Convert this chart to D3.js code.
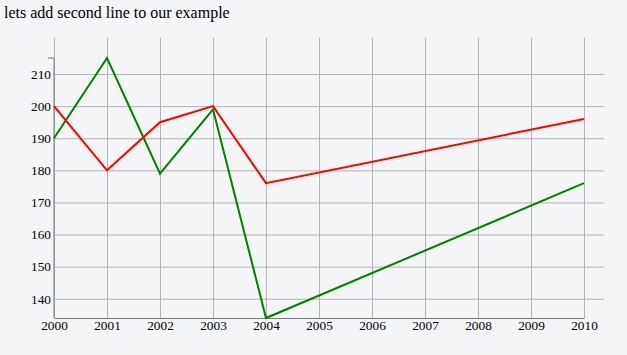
<!DOCTYPE html>
<html><head><meta charset="utf-8">
<script src="https://cdn.jsdelivr.net/npm/d3@7"></script>
<style>
html,body{margin:0;padding:0;background:#f4f5f7;}
svg{display:block;}
</style></head>
<body>
<script>
const title = "lets add second line to our example";
const years = [2000, 2001, 2002, 2003, 2004, 2010];
const greenValues = [190, 215, 179, 199, 134, 176];
const redValues = [200, 180, 195, 200, 176, 196];
const xTicks = [2000,2001,2002,2003,2004,2005,2006,2007,2008,2009,2010];
const yTicks = [140,150,160,170,180,190,200,210];

const W = 627, H = 355;
const pLeft = 54, pTop = 58, pRight = 584, pBottom = 318;
const FONT = "font-family:'Liberation Serif',serif;";

const svg = d3.select("body").append("svg").attr("width", W).attr("height", H);
svg.append("rect").attr("width", W).attr("height", H).attr("fill", "#f4f5f7");

svg.append("text").attr("x", 4).attr("y", 18).attr("style", FONT + "font-size:16px").attr("fill", "#000").text(title);

const x = d3.scaleLinear().domain([2000, 2010]).range([pLeft, pRight]);
const y = d3.scaleLinear().domain([134, 215]).range([pBottom, pTop]);

// grids
const gx = svg.append("g").attr("transform", `translate(0,${pBottom})`)
  .call(d3.axisBottom(x).tickValues(xTicks).tickSize(-(pBottom - 38)).tickFormat(""));
gx.select(".domain").remove();
gx.selectAll("line").attr("stroke", "#b4b4b4");
const gy = svg.append("g").attr("transform", `translate(${pLeft},0)`)
  .call(d3.axisLeft(y).tickValues(yTicks).tickSize(-(604 - pLeft)).tickFormat(""));
gy.select(".domain").remove();
gy.selectAll("line").attr("stroke", "#b4b4b4");

// axes
const ax = svg.append("g").attr("transform", `translate(0,${pBottom})`)
  .call(d3.axisBottom(x).tickValues(xTicks).tickFormat(d3.format("d")).tickSizeInner(0).tickSizeOuter(0).tickPadding(3));
ax.select(".domain").attr("stroke", "#777");
ax.selectAll("text").attr("style", FONT + "font-size:13.3px").attr("fill", "#000");

const ay = svg.append("g").attr("transform", `translate(${pLeft},0)`)
  .call(d3.axisLeft(y).tickValues(yTicks).tickSizeInner(0).tickSizeOuter(6).tickPadding(3));
ay.select(".domain").attr("stroke", "#777").attr("d", `M-6,${pTop}H0V${pBottom}`);
ay.selectAll("text").attr("style", FONT + "font-size:13.3px").attr("fill", "#000");

const line = d3.line().x((d, i) => x(years[i])).y(d => y(d));
svg.append("path").datum(greenValues).attr("d", line).attr("fill", "none").attr("stroke", "green").attr("stroke-width", 2);
svg.append("path").datum(redValues).attr("d", line).attr("fill", "none").attr("stroke", "red").attr("stroke-width", 2);
</script>
</body></html>
